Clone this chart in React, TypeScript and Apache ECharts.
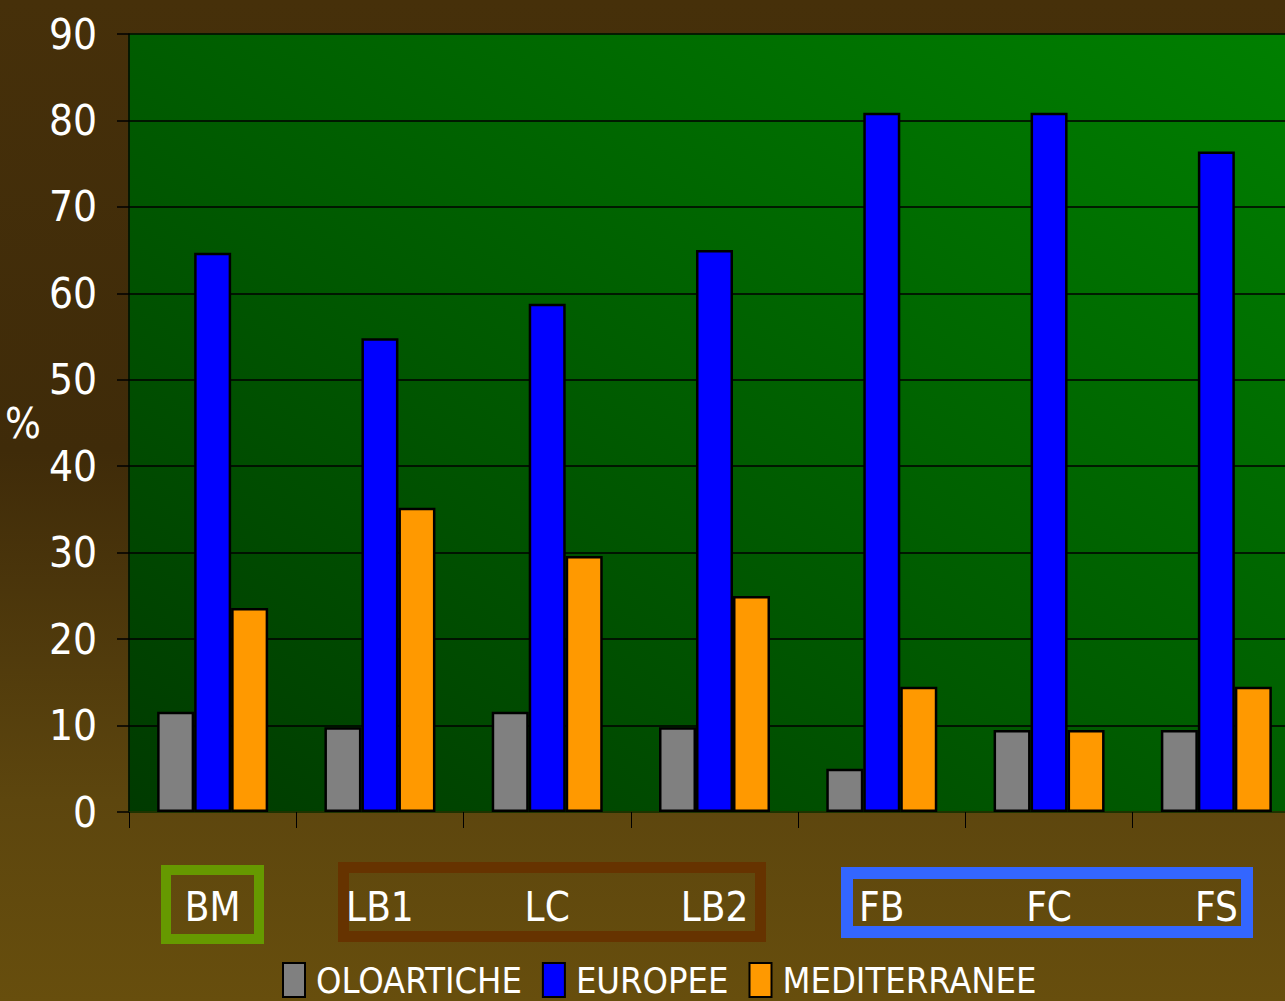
import React, { useEffect, useRef } from "react";
import * as echarts from "echarts";

const categories = ["BM", "LB1", "LC", "LB2", "FB", "FC", "FS"];
const seriesNames = ["OLOARTICHE", "EUROPEE", "MEDITERRANEE"];
const oloartiche = [11.6, 9.8, 11.6, 9.8, 5.0, 9.5, 9.5];
const europee = [64.7, 54.8, 58.8, 65.0, 80.9, 80.9, 76.4];
const mediterranee = [23.6, 35.2, 29.6, 25.0, 14.5, 9.5, 14.5];
const yTicks = { min: 0, max: 90, interval: 10 };
const colors = ["#808080", "#0000ff", "#ff9900"];

const FONT = "'Liberation Sans Narrow', 'DejaVu Sans Condensed', 'Roboto', sans-serif";

export default function App() {
  const ref = useRef<HTMLDivElement>(null);
  useEffect(() => {
    if (!ref.current) return;
    const chart = echarts.init(ref.current, null, { renderer: "svg" });
    const values = [oloartiche, europee, mediterranee];
    chart.setOption({
      animation: false,
      backgroundColor: new echarts.graphic.LinearGradient(0, 0, 0, 1, [
        { offset: 0, color: "#46300a" },
        { offset: 0.45, color: "#3f2b09" },
        { offset: 0.8, color: "#5d460e" },
        { offset: 1, color: "#674e0d" },
      ]),
      textStyle: { fontFamily: FONT },
      grid: {
        left: 129,
        right: 0,
        top: 34,
        bottom: 189,
        show: true,
        borderColor: "#008a00",
        borderWidth: 1,
        backgroundColor: new echarts.graphic.LinearGradient(0, 1, 1, 0, [
          { offset: 0, color: "#003a00" },
          { offset: 1, color: "#008000" },
        ]),
      },
      legend: {
        left: 277,
        top: 957,
        icon: "rect",
        itemWidth: 22,
        itemHeight: 34,
        itemGap: 20,
        textStyle: { color: "#ffffff", fontSize: 36, fontFamily: FONT, padding: [0, 0, 0, 6] },
        data: seriesNames,
      },
      xAxis: {
        type: "category",
        data: categories,
        axisLine: { show: true, lineStyle: { color: "#1d3300", width: 2 } },
        axisTick: { show: true, length: 16, lineStyle: { color: "#000000", width: 1 } },
        axisLabel: {
          color: "#ffffff",
          fontSize: 40,
          fontFamily: FONT,
          margin: 95,
          verticalAlign: "middle",
        },
      },
      yAxis: {
        type: "value",
        min: yTicks.min,
        max: yTicks.max,
        interval: yTicks.interval,
        name: "%",
        nameLocation: "middle",
        nameRotate: 0,
        nameGap: 106,
        nameTextStyle: { color: "#ffffff", fontSize: 42, fontFamily: FONT, align: "center" },
        axisLine: { show: true, lineStyle: { color: "#000000", width: 1.5 } },
        axisTick: { show: true, length: 12, lineStyle: { color: "#000000", width: 1.5 } },
        axisLabel: { color: "#ffffff", fontSize: 42, fontFamily: FONT, margin: 32 },
        splitLine: { show: true, lineStyle: { color: "#000000", width: 1.5 } },
      },
      series: seriesNames.map((name, i) => ({
        name,
        type: "bar",
        data: values[i],
        barWidth: 37,
        barGap: "0%",
        itemStyle: { color: colors[i], borderColor: "#000000", borderWidth: 2.5 },
      })),
      graphic: [
        {
          type: "rect",
          shape: { x: 166, y: 870, width: 93, height: 69 },
          style: { fill: "none", stroke: "#669900", lineWidth: 10 },
        },
        {
          type: "rect",
          shape: { x: 343.5, y: 867.5, width: 417, height: 69 },
          style: { fill: "none", stroke: "#663300", lineWidth: 11 },
        },
        {
          type: "rect",
          shape: { x: 847, y: 873, width: 400, height: 59 },
          style: { fill: "none", stroke: "#3366ff", lineWidth: 12 },
        },
      ],
    });
    return () => chart.dispose();
  }, []);
  return (
    <div
      ref={ref}
      style={{ position: "fixed", left: 0, top: 0, width: 1300, height: 1001 }}
    />
  );
}
